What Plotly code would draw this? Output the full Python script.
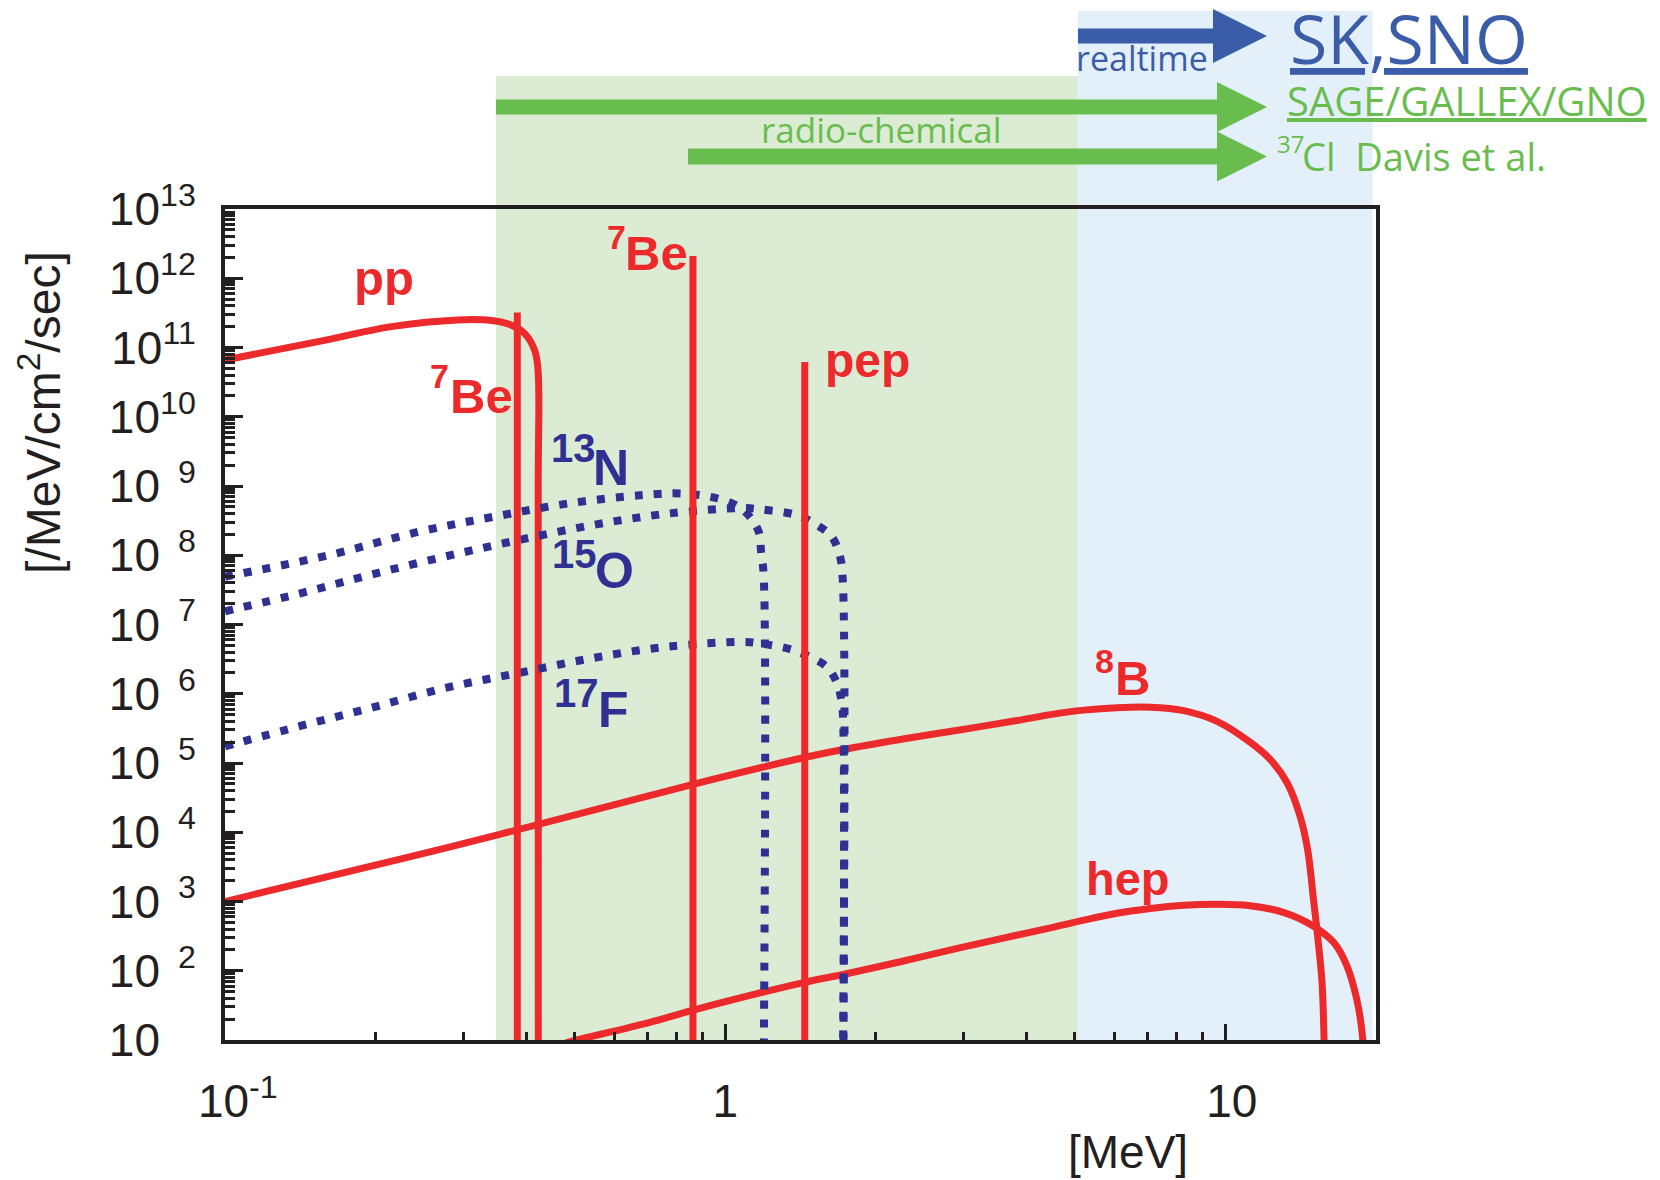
import plotly.graph_objects as go

# ---------------- data ----------------
pp_E = [0.1, 0.158, 0.215, 0.292, 0.341, 0.374, 0.397, 0.416, 0.4225, 0.4228, 0.423]
pp_F = [6.6e10, 1.27e11, 2.0e11, 2.5e11, 2.45e11, 2.1e11, 1.6e11, 9.1e10, 4.7e10, 1e9, 5]

be7_low_E, be7_low_top = 0.384, 3.2e11
be7_high_E, be7_high_top = 0.862, 2.1e12
pep_E, pep_top = 1.442, 6.2e10

b8_E = [0.1, 0.224, 0.354, 0.87, 1.44, 1.73, 2.25, 2.94, 3.83, 4.47, 5.21, 6.07, 7.08,
        8.25, 9.62, 11.2, 12.3, 13.3, 14.1, 14.6, 15.0, 15.26, 15.6, 15.75, 15.8]
b8_F = [1.0e3, 4.1e3, 9.3e3, 5.0e4, 1.2e5, 1.58e5, 2.2e5, 3.0e5, 4.1e5, 5.0e5, 5.8e5, 6.3e5, 6.4e5,
        5.7e5, 4.0e5, 2.0e5, 1.12e5, 5.1e4, 1.7e4, 5.6e3, 1.07e3, 355, 68, 10, 5]

hep_E = [0.48, 0.505, 0.707, 0.863, 1.44, 1.73, 2.24, 2.94, 4.47, 5.21, 6.07, 7.08, 8.25,
         9.62, 11.2, 13.1, 15.0, 16.5, 17.5, 18.3, 18.8, 18.85]
hep_F = [9.1, 10, 18, 27, 68, 89, 135, 214, 417, 537, 676, 794, 880,
         912, 870, 692, 440, 251, 117, 39, 11, 5]

n13_E = [0.1, 0.161, 0.245, 0.345, 0.486, 0.686, 0.815, 0.967, 1.064, 1.127, 1.169, 1.180, 1.193, 1.194]
n13_F = [4.9e7, 1.0e8, 2.2e8, 3.6e8, 5.6e8, 7.4e8, 7.8e8, 6.6e8, 5.0e8, 3.4e8, 2.1e8, 1.07e8, 5.5e7, 5]

o15_E = [0.1, 0.141, 0.195, 0.274, 0.387, 0.546, 0.769, 1.084, 1.174, 1.39, 1.524, 1.633, 1.697, 1.718, 1.72]
o15_F = [1.55e7, 2.8e7, 5.2e7, 9.5e7, 1.66e8, 2.75e8, 4.0e8, 4.8e8, 4.6e8, 3.8e8, 2.75e8, 1.86e8, 9.5e7, 4.4e7, 5]

f17_E = [0.1, 0.141, 0.195, 0.274, 0.387, 0.546, 0.769, 1.084, 1.156, 1.348, 1.478, 1.596, 1.671, 1.710, 1.722, 1.723]
f17_F = [1.74e5, 3.4e5, 6.2e5, 1.2e6, 2.0e6, 3.3e6, 4.8e6, 5.6e6, 5.4e6, 4.4e6, 3.4e6, 2.45e6, 1.45e6, 7.4e5, 3.4e5, 5]

radiochem_E = [0.348, 5.07]   # green band
realtime_E = [5.07, 19.7]     # blue band

x_tickvals = [0.1, 1, 10]
x_ticktext = ["\u00a0\u00a010<sup>-1</sup>", "1", "\u00a010"]
y_exps = list(range(1, 14))
y_ticktext = ["10<sup>%d</sup>" % k if k >= 10 else ("10<sup>\u00a0\u00a0%d</sup>" % k if k > 1 else "10<sup>\u00a0\u00a0\u00a0\u00a0</sup>") for k in y_exps]

# ---------------- style ----------------
RED = "#ec2a2c"
NAVY = "#2e3192"
BLUE = "#3b5ca8"
GREEN = "#69bd4f"
BLACK = "#231f20"
OFF = 8                      # default page margin of the html body
W, H = 1660 - OFF, 1180 - OFF
PL, PR, PT, PB = 225, 1376, 209, 1040   # plot box in page pixels
ML, MT = PL - OFF, PT - OFF
MR, MB = W - (PR - OFF), H - (PB - OFF)
PW, PH = PR - PL, PB - PT


def xp(px):
    return (px - PL) / PW


def yp(py):
    return (PB - py) / PH


fig = go.Figure()

solid = dict(color=RED, width=7, shape="spline", smoothing=1.0)
dotted = dict(color=NAVY, width=8, dash="8px,11px", shape="spline", smoothing=1.0)

for E, F in [(pp_E, pp_F), (b8_E, b8_F), (hep_E, hep_F)]:
    fig.add_trace(go.Scatter(x=E, y=F, mode="lines", line=solid, hoverinfo="skip", showlegend=False))
for E, F in [(n13_E, n13_F), (o15_E, o15_F), (f17_E, f17_F)]:
    fig.add_trace(go.Scatter(x=E, y=F, mode="lines", line=dotted, hoverinfo="skip", showlegend=False))
for E, top in [(be7_low_E, be7_low_top), (be7_high_E, be7_high_top), (pep_E, pep_top)]:
    fig.add_trace(go.Scatter(x=[E, E], y=[5, top], mode="lines", line=dict(color=RED, width=7),
                             hoverinfo="skip", showlegend=False))

shapes = [
    dict(type="rect", xref="x", yref="paper", x0=radiochem_E[0], x1=radiochem_E[1], y0=0, y1=yp(76),
         fillcolor="#dcebd3", line=dict(width=0), layer="below"),
    dict(type="rect", xref="x", yref="paper", x0=realtime_E[0], x1=realtime_E[1], y0=0, y1=yp(11),
         fillcolor="#e3f0fa", line=dict(width=0), layer="below"),
]


def arrow(x0, x1, xt, yc, hs, hh, color):
    pts = [(x0, yc - hs), (x1, yc - hs), (x1, yc - hh), (xt, yc), (x1, yc + hh), (x1, yc + hs), (x0, yc + hs)]
    path = "M " + " L ".join("%.5f,%.5f" % (xp(a), yp(b)) for a, b in pts) + " Z"
    return dict(type="path", xref="paper", yref="paper", path=path, fillcolor=color,
                line=dict(width=0), layer="above")


shapes += [
    arrow(1078, 1213, 1267, 36, 7.5, 27, BLUE),
    arrow(496, 1217, 1267, 107, 7.5, 25, GREEN),
    arrow(688, 1217, 1267, 156.5, 8, 25, GREEN),
]

ann = []


def label(text, x, y, size, color, family="Liberation Sans, Arial", xanchor="center", angle=0):
    ann.append(dict(text=text, x=xp(x), y=yp(y), xref="paper", yref="paper", showarrow=False,
                    xanchor=xanchor, yanchor="middle", textangle=angle,
                    font=dict(family=family, size=size, color=color)))


# curve labels
label("<b>pp</b>", 384, 278, 49, RED)
label("<b>Be</b>", 656, 253, 49, RED)
label("<b>7</b>", 616, 237, 34, RED)
label("<b>Be</b>", 481, 396, 49, RED)
label("<b>7</b>", 439, 376, 34, RED)
label("<b>pep</b>", 867, 360, 48, RED)
label("<b>B</b>", 1132, 678, 49, RED)
label("<b>8</b>", 1104, 661, 34, RED)
label("<b>hep</b>", 1128, 878, 47, RED)
label("<b>N</b>", 611, 468, 50, NAVY)
label("<b>13</b>", 573, 448, 40, NAVY)
label("<b>O</b>", 614, 571, 50, NAVY)
label("<b>15</b>", 574, 554, 40, NAVY)
label("<b>F</b>", 613, 710, 50, NAVY)
label("<b>17</b>", 576, 693, 40, NAVY)

# detector labels
OS = "Open Sans"
label("realtime", 1142, 58, 34, BLUE, OS)
label("<u>SK,SNO</u>", 1409, 37, 68, BLUE, OS)
label("<u>SAGE/GALLEX/GNO</u>", 1467, 100, 40, GREEN, OS)
label("radio-chemical", 881, 129, 35, GREEN, OS)
label("Cl  Davis et al.", 1300, 156, 38, GREEN, OS, xanchor="left")
label("37", 1290, 143, 24, GREEN, OS)

# axis titles
label("[MeV]", 1128, 1152, 46, BLACK)
label("[/MeV/cm<sup>2</sup>/sec]", 40, 413, 48, BLACK, angle=-90)

x_minor = [m * 10 ** k for k in (-1, 0, 1) for m in range(2, 10) if m * 10 ** k <= 20]
y_minor = [m * 10 ** k for k in range(1, 13) for m in range(2, 10)]

fig.update_layout(
    width=W, height=H,
    margin=dict(l=ML, r=MR, t=MT, b=MB, autoexpand=False),
    paper_bgcolor="white", plot_bgcolor="rgba(0,0,0,0)",
    shapes=shapes, annotations=ann,
    xaxis=dict(type="log", range=[-1, 1.30103], tickmode="array", tickvals=x_tickvals, ticktext=x_ticktext,
               ticks="inside", ticklen=16, tickwidth=3, tickcolor=BLACK,
               showline=True, linewidth=4, linecolor=BLACK, mirror=True,
               showgrid=False, zeroline=False, automargin=False, ticklabelstandoff=18,
               tickfont=dict(family="Liberation Sans, Arial", size=46, color=BLACK),
               minor=dict(tickmode="array", tickvals=x_minor, ticks="inside", ticklen=8, tickwidth=3,
                          tickcolor=BLACK, showgrid=False)),
    yaxis=dict(type="log", range=[1, 13.0], tickmode="array", tickvals=[10 ** k for k in y_exps],
               ticktext=y_ticktext,
               ticks="inside", ticklen=18, tickwidth=3, tickcolor=BLACK,
               showline=True, linewidth=4, linecolor=BLACK, mirror=True,
               showgrid=False, zeroline=False, automargin=False, ticklabelstandoff=16,
               tickfont=dict(family="Liberation Sans, Arial", size=46, color=BLACK),
               minor=dict(tickmode="array", tickvals=y_minor, ticks="inside", ticklen=10, tickwidth=3,
                          tickcolor=BLACK, showgrid=False)),
)

fig.write_html("out.html")
